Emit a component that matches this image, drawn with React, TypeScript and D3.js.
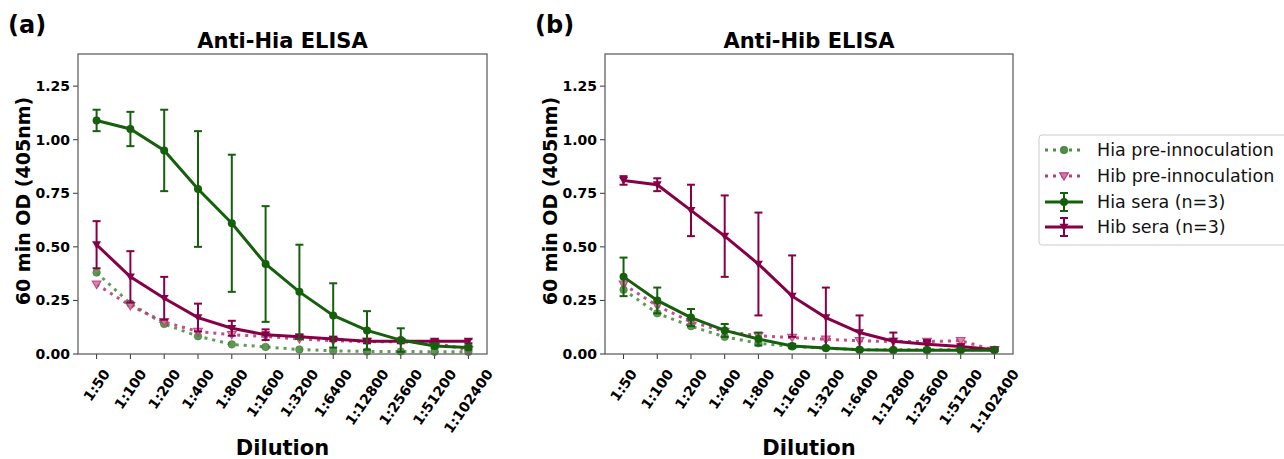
import React, { useEffect, useRef } from "react";
import * as d3 from "d3";

const dilutions = ["1:50", "1:100", "1:200", "1:400", "1:800", "1:1600", "1:3200", "1:6400", "1:12800", "1:25600", "1:51200", "1:102400"];
const yTicks = [0, 0.25, 0.5, 0.75, 1.0, 1.25];

// Panel (a) Anti-Hia ELISA
const hiaPreA = [0.38, 0.235, 0.14, 0.083, 0.045, 0.033, 0.021, 0.015, 0.012, 0.012, 0.01, 0.01];
const hibPreA = [0.325, 0.225, 0.15, 0.105, 0.09, 0.082, 0.07, 0.062, 0.058, 0.057, 0.05, 0.02];
const hiaSeraA = [1.09, 1.05, 0.95, 0.77, 0.61, 0.42, 0.29, 0.18, 0.11, 0.065, 0.037, 0.03];
const hiaSeraErrA = [0.05, 0.08, 0.19, 0.27, 0.32, 0.27, 0.22, 0.15, 0.09, 0.055, 0.01, 0.01];
const hibSeraA = [0.51, 0.36, 0.26, 0.17, 0.12, 0.09, 0.08, 0.07, 0.06, 0.06, 0.06, 0.06];
const hibSeraErrA = [0.11, 0.12, 0.1, 0.065, 0.035, 0.025, 0.01, 0.01, 0.01, 0.01, 0.01, 0.01];

// Panel (b) Anti-Hib ELISA
const hiaPreB = [0.3, 0.19, 0.13, 0.08, 0.05, 0.035, 0.027, 0.02, 0.02, 0.02, 0.02, 0.02];
const hibPreB = [0.325, 0.225, 0.15, 0.105, 0.085, 0.077, 0.068, 0.062, 0.058, 0.058, 0.062, 0.018];
const hiaSeraB = [0.36, 0.25, 0.17, 0.11, 0.07, 0.037, 0.028, 0.02, 0.018, 0.018, 0.018, 0.018];
const hiaSeraErrB = [0.09, 0.06, 0.04, 0.03, 0.03, 0.01, 0.005, 0.005, 0.005, 0.005, 0.005, 0.005];
const hibSeraB = [0.81, 0.79, 0.67, 0.55, 0.42, 0.27, 0.17, 0.1, 0.06, 0.045, 0.035, 0.02];
const hibSeraErrB = [0.02, 0.03, 0.12, 0.19, 0.24, 0.19, 0.14, 0.08, 0.04, 0.02, 0.01, 0.005];

const legendLabels = ["Hia pre-innoculation", "Hib pre-innoculation", "Hia sera (n=3)", "Hib sera (n=3)"];

const GREEN = "#15600c";
const RED = "#870046";
const GREEN_PRE = "#4f8f45";
const RED_PRE = "#bb3d7a";
const FONT = "'DejaVu Sans', sans-serif";

type Panel = {
  tag: string;
  title: string;
  left: number;
  right: number;
  hiaPre: number[];
  hibPre: number[];
  hiaSera: number[];
  hiaErr: number[];
  hibSera: number[];
  hibErr: number[];
};

const panels: Panel[] = [
  { tag: "(a)", title: "Anti-Hia ELISA", left: 78, right: 487, hiaPre: hiaPreA, hibPre: hibPreA, hiaSera: hiaSeraA, hiaErr: hiaSeraErrA, hibSera: hibSeraA, hibErr: hibSeraErrA },
  { tag: "(b)", title: "Anti-Hib ELISA", left: 605, right: 1013, hiaPre: hiaPreB, hibPre: hibPreB, hiaSera: hiaSeraB, hiaErr: hiaSeraErrB, hibSera: hibSeraB, hibErr: hibSeraErrB },
];

const TOP = 54;
const BOTTOM = 354;

function triDown(r: number) {
  return `M${-r},${-r * 0.75}L${r},${-r * 0.75}L0,${r * 0.95}Z`;
}

export default function App() {
  const ref = useRef<SVGSVGElement | null>(null);

  useEffect(() => {
    const svg = d3.select(ref.current);
    svg.selectAll("*").remove();

    panels.forEach((p) => {
      const x = d3.scaleLinear().domain([-0.55, dilutions.length - 1 + 0.55]).range([p.left, p.right]);
      const y = d3.scaleLinear().domain([0, 1.4]).range([BOTTOM, TOP]);
      const g = svg.append("g");
      const cx = (p.left + p.right) / 2;

      // panel tag and title
      g.append("text").attr("x", p.left - 70).attr("y", 33).attr("font-family", FONT).attr("font-size", 24).attr("font-weight", "bold").text(p.tag);
      g.append("text").attr("x", cx).attr("y", 48).attr("text-anchor", "middle").attr("font-family", FONT).attr("font-size", 21).attr("font-weight", "bold").text(p.title);

      // y ticks
      yTicks.forEach((t) => {
        g.append("line").attr("x1", p.left - 5).attr("x2", p.left).attr("y1", y(t)).attr("y2", y(t)).attr("stroke", "#333").attr("stroke-width", 1);
        g.append("text").attr("x", p.left - 8).attr("y", y(t)).attr("dy", "0.35em").attr("text-anchor", "end").attr("font-family", FONT).attr("font-size", 14).attr("font-weight", "bold").text(t.toFixed(2));
      });
      // y label
      g.append("text")
        .attr("transform", `translate(${p.left - 55},${(TOP + BOTTOM) / 2 - 3}) rotate(-90)`)
        .attr("text-anchor", "middle").attr("dy", "0.35em")
        .attr("font-family", FONT).attr("font-size", 19).attr("font-weight", "bold").text("60 min OD (405nm)");

      // x ticks
      dilutions.forEach((lab, i) => {
        const tx = x(i);
        g.append("line").attr("x1", tx).attr("x2", tx).attr("y1", BOTTOM).attr("y2", BOTTOM + 5).attr("stroke", "#333").attr("stroke-width", 1);
        const t = g.append("text").attr("text-anchor", "middle").attr("dy", "0.35em")
          .attr("font-family", FONT).attr("font-size", 14).attr("font-weight", "bold").text(lab);
        const w = (t.node() as SVGTextElement).getComputedTextLength();
        const h = 14;
        const a = (55 * Math.PI) / 180;
        const bh = w * Math.sin(a) + h * Math.cos(a);
        t.attr("transform", `translate(${tx},${367 + bh / 2}) rotate(-55)`);
      });
      g.append("text").attr("x", cx).attr("y", 455).attr("text-anchor", "middle").attr("font-family", FONT).attr("font-size", 21).attr("font-weight", "bold").text("Dilution");

      const line = d3.line<number>().x((_, i) => x(i)).y((v) => y(v));

      // pre-inoculation (dotted)
      const drawPre = (vals: number[], color: string, marker: "circle" | "tri") => {
        g.append("path").attr("d", line(vals)).attr("fill", "none").attr("stroke", color).attr("stroke-width", 3).attr("stroke-dasharray", "3,5").attr("opacity", 0.9);
        vals.forEach((v, i) => {
          if (marker === "circle") {
            g.append("circle").attr("cx", x(i)).attr("cy", y(v)).attr("r", 3.8).attr("fill", color).attr("stroke", GREEN).attr("stroke-opacity", 0.5).attr("stroke-width", 1).attr("opacity", 0.9);
          } else {
            g.append("path").attr("d", triDown(4.3)).attr("transform", `translate(${x(i)},${y(v)})`).attr("fill", "#d47aa6").attr("stroke", color).attr("stroke-width", 1.2).attr("opacity", 0.9);
          }
        });
      };
      drawPre(p.hiaPre, GREEN_PRE, "circle");
      drawPre(p.hibPre, RED_PRE, "tri");

      const drawSera = (vals: number[], errs: number[], color: string, marker: "circle" | "tri") => {
        vals.forEach((v, i) => {
          const x0 = x(i);
          g.append("line").attr("x1", x0).attr("x2", x0).attr("y1", y(v - errs[i])).attr("y2", y(v + errs[i])).attr("stroke", color).attr("stroke-width", 2);
          [v - errs[i], v + errs[i]].forEach((e) => {
            g.append("line").attr("x1", x0 - 4).attr("x2", x0 + 4).attr("y1", y(e)).attr("y2", y(e)).attr("stroke", color).attr("stroke-width", 2);
          });
        });
        g.append("path").attr("d", line(vals)).attr("fill", "none").attr("stroke", color).attr("stroke-width", 3);
        vals.forEach((v, i) => {
          if (marker === "circle") {
            g.append("circle").attr("cx", x(i)).attr("cy", y(v)).attr("r", 4).attr("fill", color);
          } else {
            g.append("path").attr("d", triDown(4.5)).attr("transform", `translate(${x(i)},${y(v)})`).attr("fill", color);
          }
        });
      };
      drawSera(p.hibSera, p.hibErr, RED, "tri");
      drawSera(p.hiaSera, p.hiaErr, GREEN, "circle");

      // axes frame
      g.append("rect").attr("x", p.left).attr("y", TOP).attr("width", p.right - p.left).attr("height", BOTTOM - TOP).attr("fill", "none").attr("stroke", "#555").attr("stroke-width", 1.2);
    });

    // legend
    const lg = svg.append("g");
    lg.append("rect").attr("x", 1039).attr("y", 135).attr("width", 260).attr("height", 110).attr("rx", 3).attr("fill", "white").attr("stroke", "#cccccc").attr("stroke-width", 1);
    const rows = [150, 176, 202, 227];
    const hx1 = 1045, hx2 = 1083, hm = 1064;
    // Hia pre
    lg.append("line").attr("x1", hx1).attr("x2", hx2).attr("y1", rows[0]).attr("y2", rows[0]).attr("stroke", GREEN_PRE).attr("stroke-width", 3).attr("stroke-dasharray", "3,5");
    lg.append("circle").attr("cx", hm).attr("cy", rows[0]).attr("r", 3.8).attr("fill", GREEN_PRE).attr("stroke", GREEN).attr("stroke-opacity", 0.5);
    // Hib pre
    lg.append("line").attr("x1", hx1).attr("x2", hx2).attr("y1", rows[1]).attr("y2", rows[1]).attr("stroke", RED_PRE).attr("stroke-width", 3).attr("stroke-dasharray", "3,5");
    lg.append("path").attr("d", triDown(4.3)).attr("transform", `translate(${hm},${rows[1]})`).attr("fill", "#d47aa6").attr("stroke", RED_PRE).attr("stroke-width", 1.2);
    // sera
    [[GREEN, rows[2], "circle"], [RED, rows[3], "tri"]].forEach(([c, ry, m]) => {
      const col = c as string; const yy = ry as number;
      lg.append("line").attr("x1", hx1).attr("x2", hx2).attr("y1", yy).attr("y2", yy).attr("stroke", col).attr("stroke-width", 3);
      lg.append("line").attr("x1", hm).attr("x2", hm).attr("y1", yy - 9).attr("y2", yy + 9).attr("stroke", col).attr("stroke-width", 2);
      lg.append("line").attr("x1", hm - 4).attr("x2", hm + 4).attr("y1", yy - 9).attr("y2", yy - 9).attr("stroke", col).attr("stroke-width", 2);
      lg.append("line").attr("x1", hm - 4).attr("x2", hm + 4).attr("y1", yy + 9).attr("y2", yy + 9).attr("stroke", col).attr("stroke-width", 2);
      if (m === "circle") lg.append("circle").attr("cx", hm).attr("cy", yy).attr("r", 4).attr("fill", col);
      else lg.append("path").attr("d", triDown(4.5)).attr("transform", `translate(${hm},${yy})`).attr("fill", col);
    });
    legendLabels.forEach((l, i) => {
      lg.append("text").attr("x", 1097).attr("y", rows[i]).attr("dy", "0.35em").attr("font-family", FONT).attr("font-size", 17.5).attr("fill", "#111").text(l);
    });
  }, []);

  return (
    <svg ref={ref} width={1284} height={459} style={{ position: "absolute", left: 0, top: 0, background: "white" }} />
  );
}
